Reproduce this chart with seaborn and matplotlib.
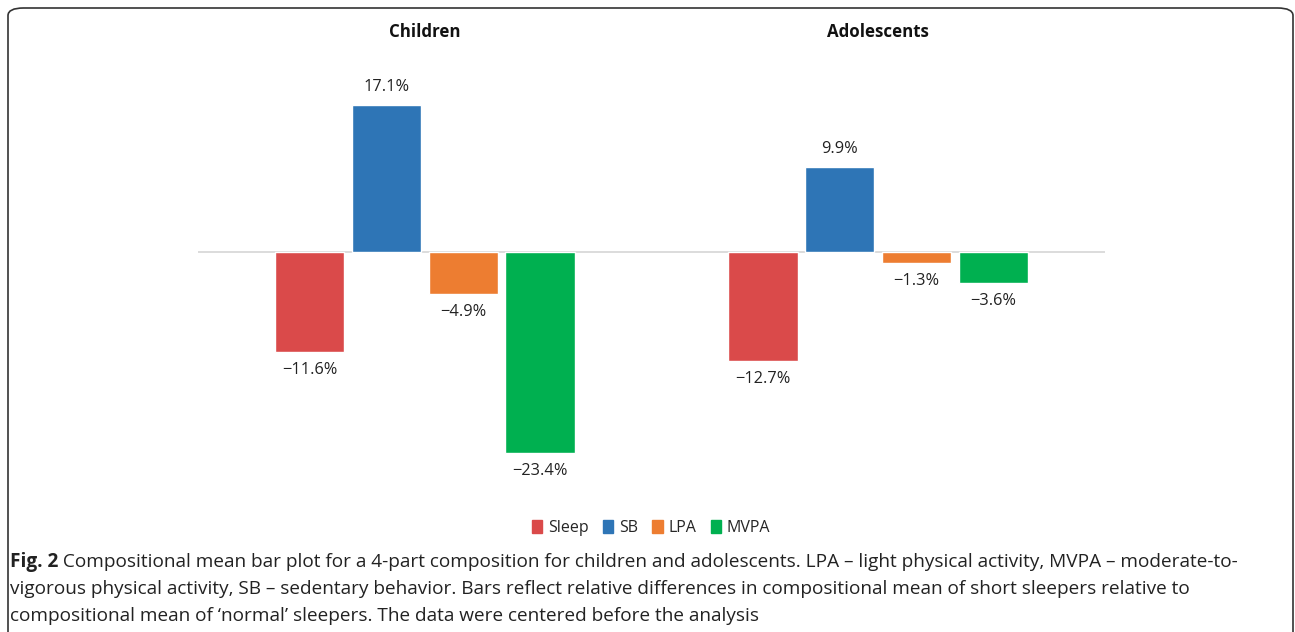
import matplotlib
matplotlib.use("Agg")
import matplotlib.pyplot as plt
import matplotlib.transforms as mtransforms
import seaborn as sns
import pandas as pd
from matplotlib.patches import FancyBboxPatch

# values
groups = ["Children", "Adolescents"]
parts = ["Sleep", "SB", "LPA", "MVPA"]
children_vals = [-11.6, 17.1, -4.9, -23.4]
adolescent_vals = [-12.7, 9.9, -1.3, -3.6]
part_colors = ["#DA4A4A", "#2E75B6", "#ED7D31", "#00B050"]

caption_bold = "Fig. 2"
caption_lines = [
    " Compositional mean bar plot for a 4-part composition for children and adolescents. LPA \u2013 light physical activity, MVPA \u2013 moderate-to-",
    "vigorous physical activity, SB \u2013 sedentary behavior. Bars reflect relative differences in compositional mean of short sleepers relative to",
    "compositional mean of \u2018normal\u2019 sleepers. The data were centered before the analysis",
]

df = pd.DataFrame({
    "group": [g for g in groups for _ in parts],
    "part": parts * 2,
    "value": children_vals + adolescent_vals,
})

sns.set_theme(style="white")
plt.rcParams["font.family"] = ["Open Sans", "DejaVu Sans"]

W, H = 1295, 632
fig = plt.figure(figsize=(W / 100, H / 100), dpi=100)

# axes placed in pixel terms: zero line at y=252, 8.6 px per percent
ylo, yhi = -30, 22
px_per = 8.6
top_px = 252 - yhi * px_per
bot_px = 252 - ylo * px_per
ax = fig.add_axes([198 / W, 1 - bot_px / H, (1105 - 198) / W, (bot_px - top_px) / H])

sns.barplot(data=df, x="group", y="value", hue="part", palette=part_colors,
            width=0.678, gap=0.1, ax=ax, legend=False, saturation=1)
ax.set_ylim(ylo, yhi)
ax.set_xlim(-0.5, 1.5)
ax.axhline(0, color="#D9D9D9", lw=1.3, zorder=0)
for s in ax.spines.values():
    s.set_visible(False)
ax.set_xticks([])
ax.set_yticks([])
ax.set_xlabel("")
ax.set_ylabel("")

for cont in ax.containers:
    for bar in cont:
        v = bar.get_height()
        x = bar.get_x() + bar.get_width() / 2
        txt = f"{v:.1f}%".replace("-", "\u2212")
        off = 13 if v >= 0 else -13
        ax.annotate(txt, (x, v), xytext=(0, off), textcoords="offset points",
                    ha="center", va="center", fontsize=11.8, color="#222222")

title_tr = mtransforms.blended_transform_factory(ax.transData, fig.transFigure)
for i, g in enumerate(groups):
    ax.text(i, 1 - 32 / H, g, transform=title_tr, ha="center", va="center",
            fontsize=12.2, fontweight="bold", color="#111111")

handles = [plt.Rectangle((0, 0), 1, 1, color=c) for c in part_colors]
fig.legend(handles, parts, loc="center", bbox_to_anchor=(651 / W, 1 - 528 / H),
           ncol=4, frameon=False, fontsize=11.5, handlelength=0.65, handleheight=0.9,
           handletextpad=0.35, columnspacing=0.9)

# rounded frame around the figure
frame = FancyBboxPatch((8 / W, -0.05), (1285 / W), 1 - 8 / H + 0.05,
                       boxstyle="round,pad=0,rounding_size=0.012",
                       transform=fig.transFigure, fill=False,
                       edgecolor="#333333", lw=1.2, clip_on=False)
fig.add_artist(frame)

# caption
fs = 13.7
fig.canvas.draw()
r = fig.canvas.get_renderer()
t0 = fig.text(10 / W, 1 - 562 / H, caption_bold, fontsize=fs, fontweight="bold",
              va="center", ha="left", color="#222222")
bb = t0.get_window_extent(renderer=r)
fig.text(bb.x1 / W, 1 - 562 / H, caption_lines[0], fontsize=fs, va="center",
         ha="left", color="#222222")
for k, line in enumerate(caption_lines[1:]):
    fig.text(10 / W, 1 - (589 + 27 * k) / H, line, fontsize=fs, va="center",
             ha="left", color="#222222")

fig.savefig("out.png", dpi=100)
